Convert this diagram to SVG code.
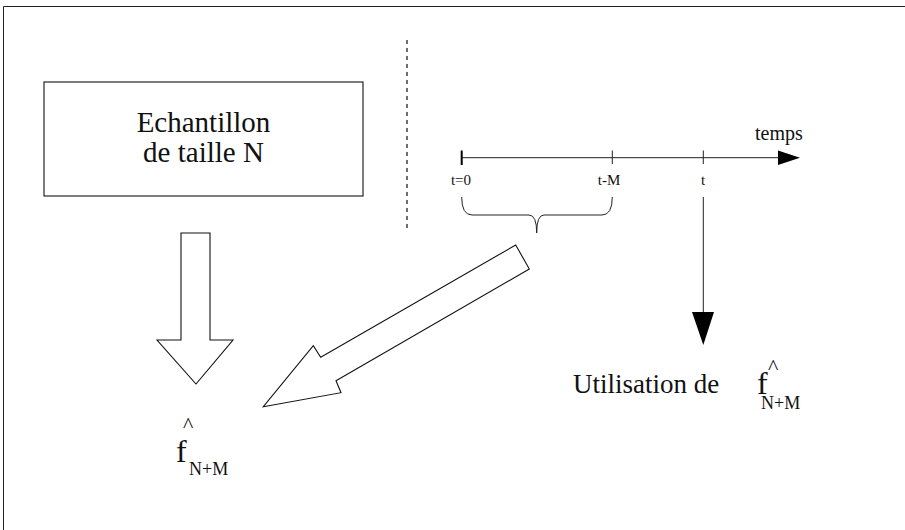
<svg xmlns="http://www.w3.org/2000/svg" width="905" height="530" viewBox="0 0 905 530">
<style>
.ln{stroke:#222;stroke-width:1;fill:none}
.shape{stroke:#111;stroke-width:1.1;fill:#fff}
.serif{font-family:"Liberation Serif","Times New Roman",serif;fill:#111}
.big{font-size:27px}
.box{font-size:29px}
.small{font-size:15px}
.fhat{font-size:32px}
.sub{font-size:18px}
.hat{font-size:22px}
</style>
<rect width="905" height="530" fill="#fff"/>
<g id="frame">
<path class="ln" d="M3.5,530 V6.5 H905"/>
</g>
<g id="echantillon">
<rect class="shape" x="44" y="82" width="319" height="114"/>
<text class="serif box" x="203.5" y="132" text-anchor="middle">Echantillon</text>
<text class="serif box" x="203.5" y="162" text-anchor="middle">de taille N</text>
</g>
<g id="separator">
<line x1="407" y1="40" x2="407" y2="228" stroke="#111" stroke-width="1.2" stroke-dasharray="4 4"/>
</g>
<g id="timeline">
<line class="ln" x1="461.7" y1="157.7" x2="780" y2="157.7"/>
<polygon points="778,150.5 800,157.7 778,165" fill="#000"/>
<line x1="461.7" y1="150.5" x2="461.7" y2="165" stroke="#000" stroke-width="2"/>
<line class="ln" x1="612.3" y1="150.5" x2="612.3" y2="164"/>
<line class="ln" x1="703.3" y1="150.5" x2="703.3" y2="164"/>
<text class="serif" font-size="20" x="755" y="140">temps</text>
<text class="serif small" x="461" y="185" text-anchor="middle">t=0</text>
<text class="serif small" x="609" y="185" text-anchor="middle">t-M</text>
<text class="serif small" x="703" y="185" text-anchor="middle">t</text>
<path class="ln" d="M461.7,197 Q461.7,215 472,215 L529,215 Q536.7,215 536.7,233 Q536.7,215 544,215 L602,215 Q612.3,215 612.3,197"/>
</g>
<g id="arrow-down">
<polygon class="shape" points="181,233 210,233 210,340 233,340 196,384 157,340 181,340"/>
</g>
<g id="arrow-diag">
<polygon class="shape" points="515.7,245 529.3,269 336,380.7 341,392.7 263.3,406.7 313.3,345.7 320.7,357.3"/>
</g>
<g id="estimate-left">
<text class="serif fhat" x="176" y="462">f</text>
<text class="serif hat" x="183" y="432">^</text>
<text class="serif sub" x="189" y="475">N+M</text>
</g>
<g id="utilisation">
<line class="ln" x1="703.3" y1="197" x2="703.3" y2="313"/>
<polygon points="692,312 714,312 703.3,345" fill="#000"/>
<text class="serif big" x="573" y="393">Utilisation de</text>
<text class="serif fhat" x="757" y="394">f</text>
<text class="serif hat" x="768" y="374">^</text>
<text class="serif sub" x="761" y="409">N+M</text>
</g>
</svg>
